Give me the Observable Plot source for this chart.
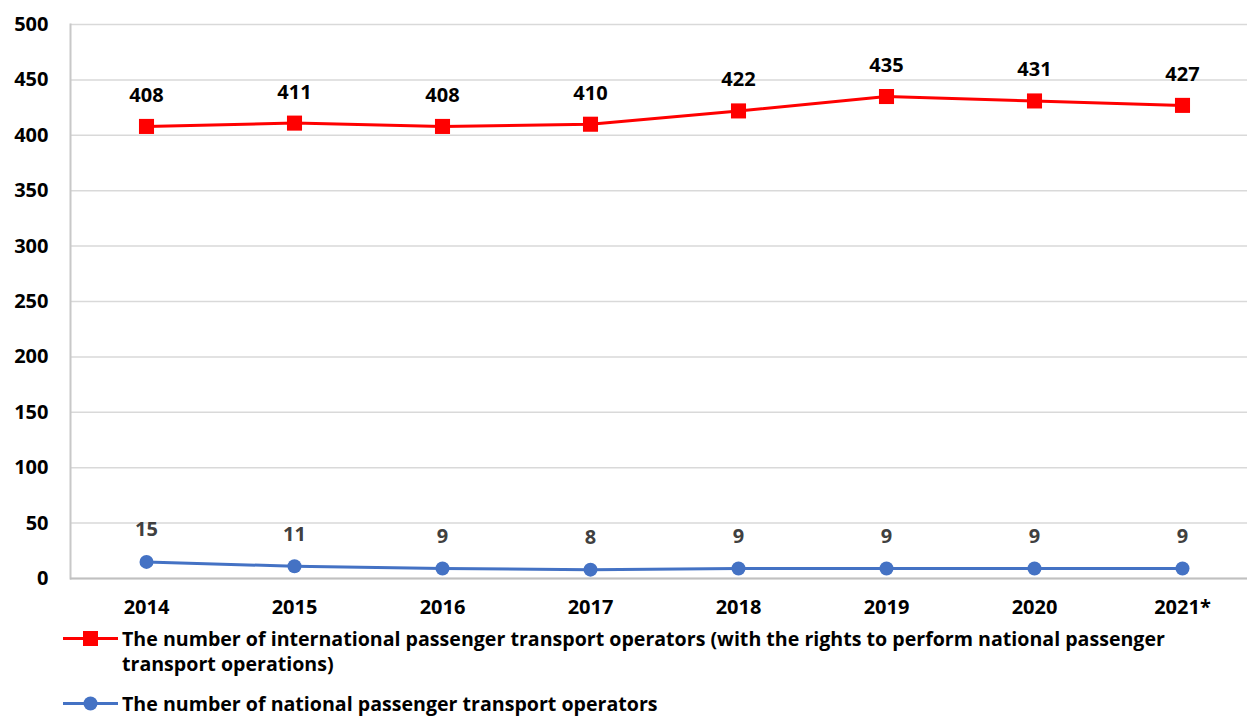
<!DOCTYPE html>
<html><head><meta charset="utf-8">
<script src="https://cdn.jsdelivr.net/npm/d3@7"></script>
<script src="https://cdn.jsdelivr.net/npm/@observablehq/plot@0.6"></script>
<style>
body{margin:0;background:#fff;font-family:"Open Sans",sans-serif;}
#wrap{position:relative;width:1247px;height:716px;overflow:hidden;}
.leg{position:absolute;left:63px;display:flex;align-items:flex-start;font-weight:bold;font-size:19.6px;line-height:25px;color:#000;}
.leg svg{flex:none;margin-right:3px;}
</style></head><body>
<div id="wrap"></div>
<script>
const years = ["2014","2015","2016","2017","2018","2019","2020","2021*"];
const international = [408,411,408,410,422,435,431,427];
const national = [15,11,9,8,9,9,9,9];
const yTicks = [0,50,100,150,200,250,300,350,400,450,500];
const seriesNames = ["The number of international passenger transport operators (with the rights to perform national passenger transport operations)","The number of national passenger transport operators"];

const intl = years.map((y,i)=>({year:y,value:international[i]}));
const nat = years.map((y,i)=>({year:y,value:national[i]}));

const F = "'Open Sans', sans-serif";
const chart = Plot.plot({
  width:1247, height:622,
  marginLeft:70, marginRight:0, marginTop:24, marginBottom:44,
  style:{fontFamily:F, background:"#fff"},
  x:{type:"point", domain:years, range:[144,1184], padding:0, label:null},
  y:{domain:[0,500], label:null},
  marks:[
    Plot.gridY(yTicks,{stroke:"#d9d9d9", strokeOpacity:1, strokeWidth:1.5}),
    Plot.frame({anchor:"left", stroke:"#c8c8c8", strokeWidth:2}),
    Plot.ruleY([0],{stroke:"#c0c0c0", strokeWidth:2}),
    Plot.axisY({ticks:yTicks, label:null, tickSize:0, tickPadding:22, fontSize:20, fontWeight:"bold", fill:"#000"}),
    Plot.axisX({label:null, tickSize:0, tickPadding:21, fontSize:20, fontWeight:"bold", fill:"#000"}),
    Plot.line(intl,{x:"year", y:"value", stroke:"#ff0000", strokeWidth:3}),
    Plot.dot(intl,{x:"year", y:"value", symbol:"square", r:8.5, fill:"#ff0000", stroke:"none"}),
    Plot.text(intl,{x:"year", y:"value", text:d=>String(d.value), dy:-31, fontSize:20, fontWeight:"bold", fill:"#000"}),
    Plot.line(nat,{x:"year", y:"value", stroke:"#4472c4", strokeWidth:3}),
    Plot.dot(nat,{x:"year", y:"value", symbol:"circle", r:7, fill:"#4472c4", stroke:"none"}),
    Plot.text(nat,{x:"year", y:"value", text:d=>String(d.value), dy:-32, fontSize:20, fontWeight:"bold", fill:"#404040"})
  ]
});
const wrap = document.getElementById("wrap");
chart.style.position="absolute"; chart.style.left="0"; chart.style.top="0";
wrap.appendChild(chart);

function legendItem(top, color, shape, text, width){
  const d = document.createElement("div");
  d.className="leg"; d.style.top=top+"px";
  const mk = shape==="square"
    ? `<rect x="20" y="5" width="15" height="15" fill="${color}"/>`
    : `<circle cx="27.5" cy="12.5" r="7" fill="${color}"/>`;
  d.innerHTML = `<svg width="56" height="25"><line x1="0" x2="55" y1="12.5" y2="12.5" stroke="${color}" stroke-width="3"/>${mk}</svg><span style="width:${width}px">${text}</span>`;
  wrap.appendChild(d);
}
legendItem(626,"#ff0000","square",seriesNames[0],1070);
legendItem(691,"#4472c4","circle",seriesNames[1],1070);
</script>
</body></html>
